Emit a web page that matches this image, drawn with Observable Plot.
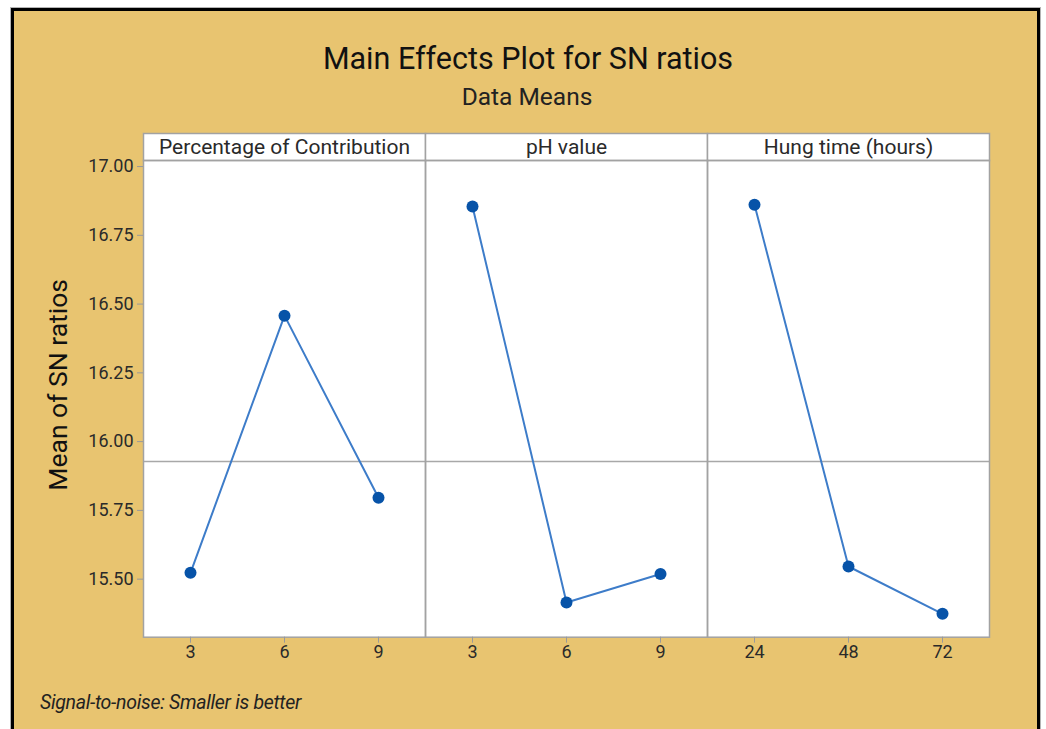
<!DOCTYPE html>
<html><head><meta charset="utf-8">
<script src="https://cdn.jsdelivr.net/npm/d3@7"></script>
<script src="https://cdn.jsdelivr.net/npm/@observablehq/plot@0.6"></script>
<style>
html,body{margin:0;padding:0;background:#fff;}
#box{position:absolute;left:11px;top:8px;width:1029px;height:730px;box-sizing:border-box;border:3px solid #000;border-bottom:none;background:#E8C470;box-shadow:0 0 0 1px #b4b4b4;font-family:Roboto,sans-serif;}
#title{position:absolute;left:5px;right:0;top:31px;line-height:34px;text-align:center;font-size:30.5px;color:#111;}
#subtitle{position:absolute;left:3px;right:0;top:73px;line-height:26px;text-align:center;font-size:24.5px;color:#222;}
#chart{position:absolute;left:0;top:104px;}
#caption{position:absolute;left:26px;top:682px;line-height:20px;font-size:19.5px;font-style:italic;color:#222;letter-spacing:-0.3px;}
</style></head>
<body>
<div id="box">
  <div id="title"></div>
  <div id="subtitle"></div>
  <div id="chart"></div>
  <div id="caption"></div>
</div>
<script>
const titleText = "Main Effects Plot for SN ratios";
const subtitleText = "Data Means";
const captionText = "Signal-to-noise: Smaller is better";
const yTitle = "Mean of SN ratios";

const factors = ["Percentage of Contribution", "pH value", "Hung time (hours)"];
const levelsPct = ["3", "6", "9"];
const levelsPH = ["3", "6", "9"];
const levelsHung = ["24", "48", "72"];
const snPct = [15.523, 16.458, 15.796];
const snPH = [16.855, 15.415, 15.519];
const snHung = [16.861, 15.546, 15.374];
const yTicks = [15.50, 15.75, 16.00, 16.25, 16.50, 16.75, 17.00];

document.getElementById("title").textContent = titleText;
document.getElementById("subtitle").textContent = subtitleText;
document.getElementById("caption").textContent = captionText;

const levels = [levelsPct, levelsPH, levelsHung];
const series = [snPct, snPH, snHung];
const rows = factors.flatMap((f, i) => series[i].map((v, j) => ({factor: f, pos: j + 1, label: levels[i][j], sn: v})));
const grandMean = d3.mean(rows, d => d.sn);

const W = 1023, H = 560, mt = 45, mb = 38.3, stripH = 27;
const frameH = H - mt - mb;
const gray = "#a2a2a2";
const ink = "#2a2a2a";

const plot = Plot.plot({
  width: W, height: H,
  marginTop: mt, marginBottom: mb, marginLeft: 128, marginRight: 47,
  style: {background: "transparent", fontFamily: "Roboto, sans-serif", color: ink, overflow: "visible"},
  fx: {domain: factors, padding: 0, axis: null},
  x: {domain: [0.5, 3.5], axis: null},
  y: {domain: [15.289, 17.022], axis: null},
  marks: [
    Plot.frame({fill: "white"}),
    Plot.frame({fill: "white", stroke: gray, strokeWidth: 1.5, insetBottom: frameH - stripH, dy: -stripH}),
    Plot.text(factors, {fx: d => d, text: d => d, frameAnchor: "top", lineAnchor: "middle", dy: -stripH / 2, fontSize: 21, fill: ink}),
    Plot.ruleY([grandMean], {stroke: "#a8a8a8", strokeWidth: 1.5}),
    Plot.line(rows, {fx: "factor", x: "pos", y: "sn", stroke: "#3d7cc9", strokeWidth: 2}),
    Plot.dot(rows, {fx: "factor", x: "pos", y: "sn", r: 6, fill: "#0753a8"}),
    Plot.frame({stroke: gray, strokeWidth: 1.5}),
    Plot.axisY({ticks: yTicks, tickFormat: d3.format(".2f"), tickSize: 6, tickPadding: 4, fontSize: 18, label: null, stroke: "#999", fill: ink}),
    Plot.axisX({ticks: [1, 2, 3], tickFormat: () => "", tickSize: 6, label: null, stroke: "#999"}),
    Plot.text(rows, {fx: "factor", x: "pos", text: "label", frameAnchor: "bottom", dy: 21, fontSize: 18, fill: ink}),
    Plot.text([yTitle], {fx: [factors[0]], text: d => d, frameAnchor: "left", textAnchor: "middle", lineAnchor: "middle", rotate: -90, dx: -85, dy: -14, fontSize: 26.5, fill: "#111"})
  ]
});
document.getElementById("chart").appendChild(plot);
</script>
</body></html>
